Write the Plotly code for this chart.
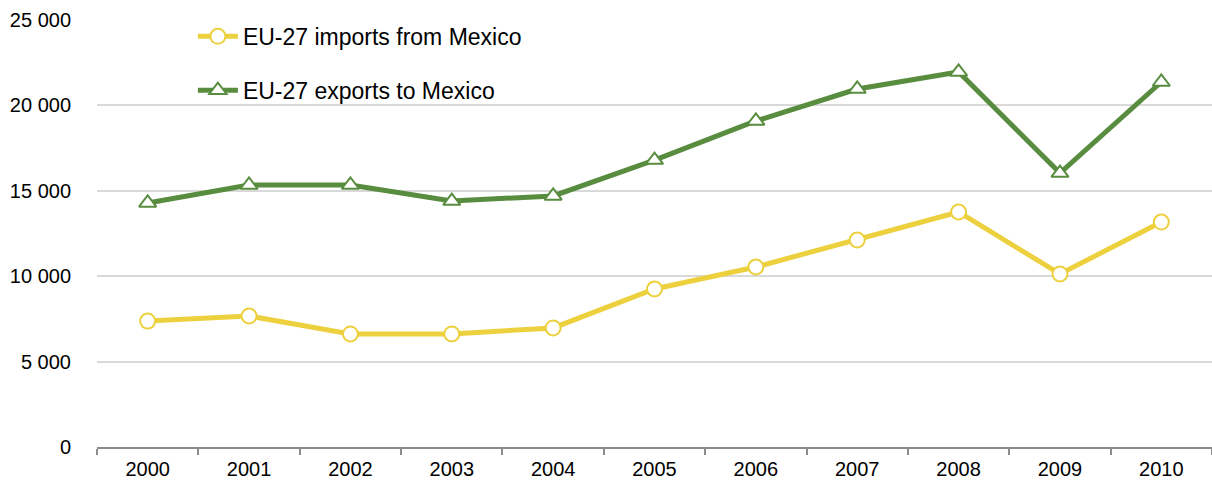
import plotly.graph_objects as go

years = ["2000", "2001", "2002", "2003", "2004", "2005", "2006", "2007", "2008", "2009", "2010"]
imports_mx = [7370, 7670, 6620, 6620, 6970, 9250, 10540, 12120, 13760, 10130, 13170]
exports_mx = [14290, 15340, 15340, 14400, 14700, 16800, 19090, 20960, 21960, 16040, 21370]
y_ticks = [0, 5000, 10000, 15000, 20000, 25000]

YELLOW = "#EDD03E"
GREEN = "#588C3F"

fig = go.Figure()
fig.add_trace(go.Scatter(
    x=years, y=imports_mx, name="EU-27 imports from Mexico", mode="lines+markers",
    legendgroup="a",
    line=dict(color=YELLOW, width=5),
    marker=dict(symbol="circle", size=15, color="white", line=dict(color=YELLOW, width=2)),
))
fig.add_trace(go.Scatter(
    x=years, y=exports_mx, name="EU-27 exports to Mexico", mode="lines+markers",
    legendgroup="b",
    line=dict(color=GREEN, width=5),
    marker=dict(symbol="triangle-up", size=15, color="white", line=dict(color=GREEN, width=2)),
))

fig.update_layout(
    width=1212, height=490, autosize=False,
    margin=dict(l=97, r=0, t=20, b=43, autoexpand=False),
    paper_bgcolor="white", plot_bgcolor="white",
    font=dict(family="Liberation Sans, Arial, sans-serif", size=20, color="black"),
    separators=". ",
    showlegend=True,
    legend=dict(x=0.086, y=1.012, xanchor="left", yanchor="top",
                font=dict(size=23), tracegroupgap=21, bgcolor="rgba(0,0,0,0)",
                itemwidth=40),
    xaxis=dict(type="category", range=[-0.5, 10.5], tickson="boundaries", ticks="outside",
               ticklen=6, tickcolor="#8c8c8c", tickwidth=2, showline=True,
               linecolor="#8c8c8c", linewidth=2, showgrid=False, tickfont=dict(size=20),
               automargin=False, ticklabelstandoff=3),
    yaxis=dict(range=[0, 25000], tickvals=y_ticks, tickformat=",d", showgrid=True,
               gridcolor="#d9d9d9", gridwidth=1.5, zeroline=False, showline=False,
               ticks="", tickfont=dict(size=20), ticklabelstandoff=25, automargin=False),
)

fig.write_html(
    "out.html",
    config={"responsive": False, "displayModeBar": False},
    post_script="document.body.style.margin='0';document.body.style.padding='0';",
)
